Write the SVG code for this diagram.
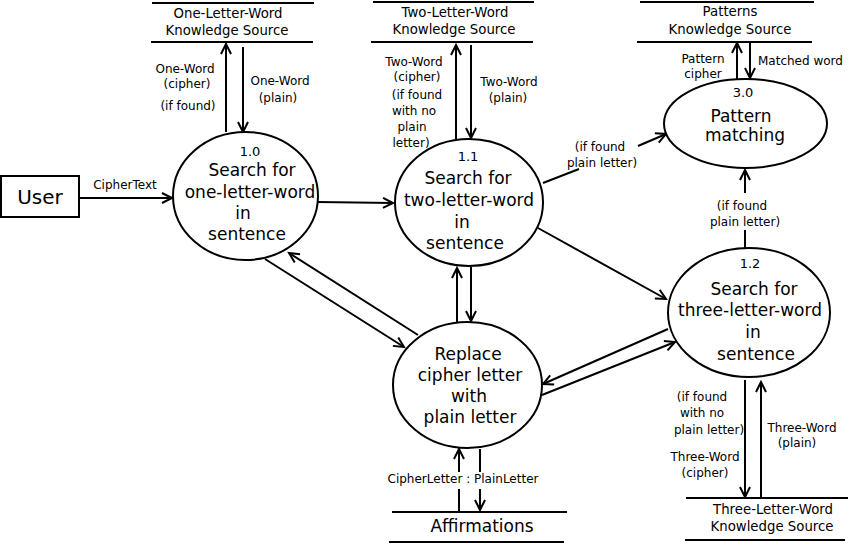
<svg xmlns="http://www.w3.org/2000/svg" width="850" height="545" viewBox="0 0 850 545">
<style>
.s{fill:none;stroke:#000;stroke-width:2}
.n{fill:#fff;stroke:#000;stroke-width:2}
text{font-family:"DejaVu Sans","Liberation Sans",sans-serif;fill:#000;text-anchor:middle}
.big{font-size:17px}
.num{font-size:13px}
.st{font-size:13.3px}
.lb{font-size:12px}
</style>
<defs>
<marker id="ah" markerUnits="userSpaceOnUse" markerWidth="14" markerHeight="14" refX="10" refY="5" orient="auto" overflow="visible">
<path d="M0,0 L10,5 L0,10" fill="none" stroke="#000" stroke-width="2"/>
</marker>
</defs>
<rect width="850" height="545" fill="#fff"/>

<g id="connectors" class="s" marker-end="url(#ah)">
<line x1="80" y1="198" x2="172" y2="198"/>
<line x1="226" y1="132" x2="226" y2="44"/>
<line x1="243" y1="47" x2="243" y2="132"/>
<line x1="318" y1="202" x2="393" y2="203"/>
<line x1="456" y1="139" x2="456" y2="45"/>
<line x1="471" y1="45" x2="471" y2="138"/>
<path d="M543,183 L579,169 M638,146 L666,134"/>
<path d="M745,248 L745,230 M745,193 L745,170"/>
<line x1="750" y1="43" x2="750" y2="78"/>
<line x1="737" y1="80" x2="737" y2="43"/>
<line x1="538" y1="228" x2="666" y2="299"/>
<line x1="668" y1="329" x2="543" y2="384"/>
<line x1="542" y1="395" x2="675" y2="342"/>
<line x1="457" y1="322" x2="457" y2="268"/>
<line x1="471" y1="267" x2="471" y2="321"/>
<line x1="265" y1="259" x2="404" y2="347"/>
<line x1="418" y1="335" x2="289" y2="253"/>
<path d="M480,449 L480,472 M480,489 L480,510"/>
<path d="M459,512 L459,489 M459,472 L459,449"/>
<line x1="745" y1="380" x2="745" y2="497"/>
<line x1="761" y1="498" x2="761" y2="382"/>
</g>

<g id="user">
<rect x="1" y="176" width="78" height="41" class="n"/>
<text x="40" y="204" style="font-size:20px">User</text>
</g>

<g id="store-one">
<line x1="152" y1="3" x2="314" y2="3" class="s"/>
<line x1="151" y1="42" x2="313" y2="42" class="s"/>
<text class="st" x="228" y="18">One-Letter-Word</text>
<text class="st" x="227" y="35">Knowledge Source</text>
</g>

<g id="store-two">
<line x1="373" y1="2" x2="534" y2="2" class="s"/>
<line x1="371" y1="42" x2="533" y2="42" class="s"/>
<text class="st" x="455" y="17">Two-Letter-Word</text>
<text class="st" x="454" y="34">Knowledge Source</text>
</g>

<g id="store-patterns">
<line x1="640" y1="2" x2="814" y2="2" class="s"/>
<line x1="637" y1="42" x2="812" y2="42" class="s"/>
<text class="st" x="730" y="16">Patterns</text>
<text class="st" x="730" y="34">Knowledge Source</text>
</g>

<g id="store-three">
<line x1="686" y1="498" x2="848" y2="498" class="s"/>
<line x1="685" y1="540" x2="845" y2="540" class="s"/>
<text class="st" x="773" y="514">Three-Letter-Word</text>
<text class="st" x="772" y="531">Knowledge Source</text>
</g>

<g id="store-affirmations">
<line x1="392" y1="512" x2="567" y2="512" class="s"/>
<line x1="389" y1="542" x2="564" y2="542" class="s"/>
<text class="big" x="482" y="532">Affirmations</text>
</g>

<g id="p1-0">
<ellipse cx="245.5" cy="196" rx="72.5" ry="64" class="n"/>
<text class="num" x="250" y="156">1.0</text>
<text class="big" x="252" y="176">Search for</text>
<text class="big" x="250" y="198">one-letter-word</text>
<text class="big" x="243" y="219">in</text>
<text class="big" x="247" y="240">sentence</text>
</g>

<g id="p1-1">
<ellipse cx="469" cy="202.5" rx="74" ry="63.5" class="n"/>
<text class="num" x="468" y="161">1.1</text>
<text class="big" x="468" y="184">Search for</text>
<text class="big" x="469" y="206">two-letter-word</text>
<text class="big" x="462" y="228">in</text>
<text class="big" x="465" y="249">sentence</text>
</g>

<g id="p3-0">
<ellipse cx="745.5" cy="123.5" rx="81.5" ry="44.5" class="n"/>
<text class="num" x="743" y="97">3.0</text>
<text class="big" x="741" y="122">Pattern</text>
<text class="big" x="745" y="141">matching</text>
</g>

<g id="p1-2">
<ellipse cx="749" cy="312.5" rx="81" ry="64.5" class="n"/>
<text class="num" x="750" y="268">1.2</text>
<text class="big" x="754" y="295">Search for</text>
<text class="big" x="750" y="316">three-letter-word</text>
<text class="big" x="753" y="338">in</text>
<text class="big" x="756" y="360">sentence</text>
</g>

<g id="p-replace">
<ellipse cx="467.5" cy="385" rx="74.5" ry="63" class="n"/>
<text class="big" x="468" y="360">Replace</text>
<text class="big" x="470" y="381">cipher letter</text>
<text class="big" x="469" y="402">with</text>
<text class="big" x="470" y="423">plain letter</text>
</g>

<g id="labels">
<text class="lb" x="125" y="189">CipherText</text>
<text class="lb" x="185" y="73">One-Word</text>
<text class="lb" x="187" y="88">(cipher)</text>
<text class="lb" x="188" y="110">(if found)</text>
<text class="lb" x="280" y="85">One-Word</text>
<text class="lb" x="278" y="102">(plain)</text>
<text class="lb" x="414" y="66">Two-Word</text>
<text class="lb" x="417" y="81">(cipher)</text>
<text class="lb" x="417" y="99">(if found</text>
<text class="lb" x="414" y="115">with no</text>
<text class="lb" x="412" y="131">plain</text>
<text class="lb" x="411" y="147">letter)</text>
<text class="lb" x="509" y="86">Two-Word</text>
<text class="lb" x="508" y="102">(plain)</text>
<text class="lb" x="703" y="63">Pattern</text>
<text class="lb" x="703" y="78">cipher</text>
<text class="lb" x="758" y="65" style="text-anchor:start">Matched word</text>
<text class="lb" x="600" y="151">(if found</text>
<text class="lb" x="602" y="167">plain letter)</text>
<text class="lb" x="742" y="210">(if found</text>
<text class="lb" x="745" y="226">plain letter)</text>
<text class="lb" x="702" y="401">(if found</text>
<text class="lb" x="702" y="417">with no</text>
<text class="lb" x="709" y="434">plain letter)</text>
<text class="lb" x="705" y="461">Three-Word</text>
<text class="lb" x="705" y="477">(cipher)</text>
<text class="lb" x="802" y="432">Three-Word</text>
<text class="lb" x="797" y="447">(plain)</text>
<text class="lb" x="463" y="483">CipherLetter : PlainLetter</text>
</g>
</svg>
